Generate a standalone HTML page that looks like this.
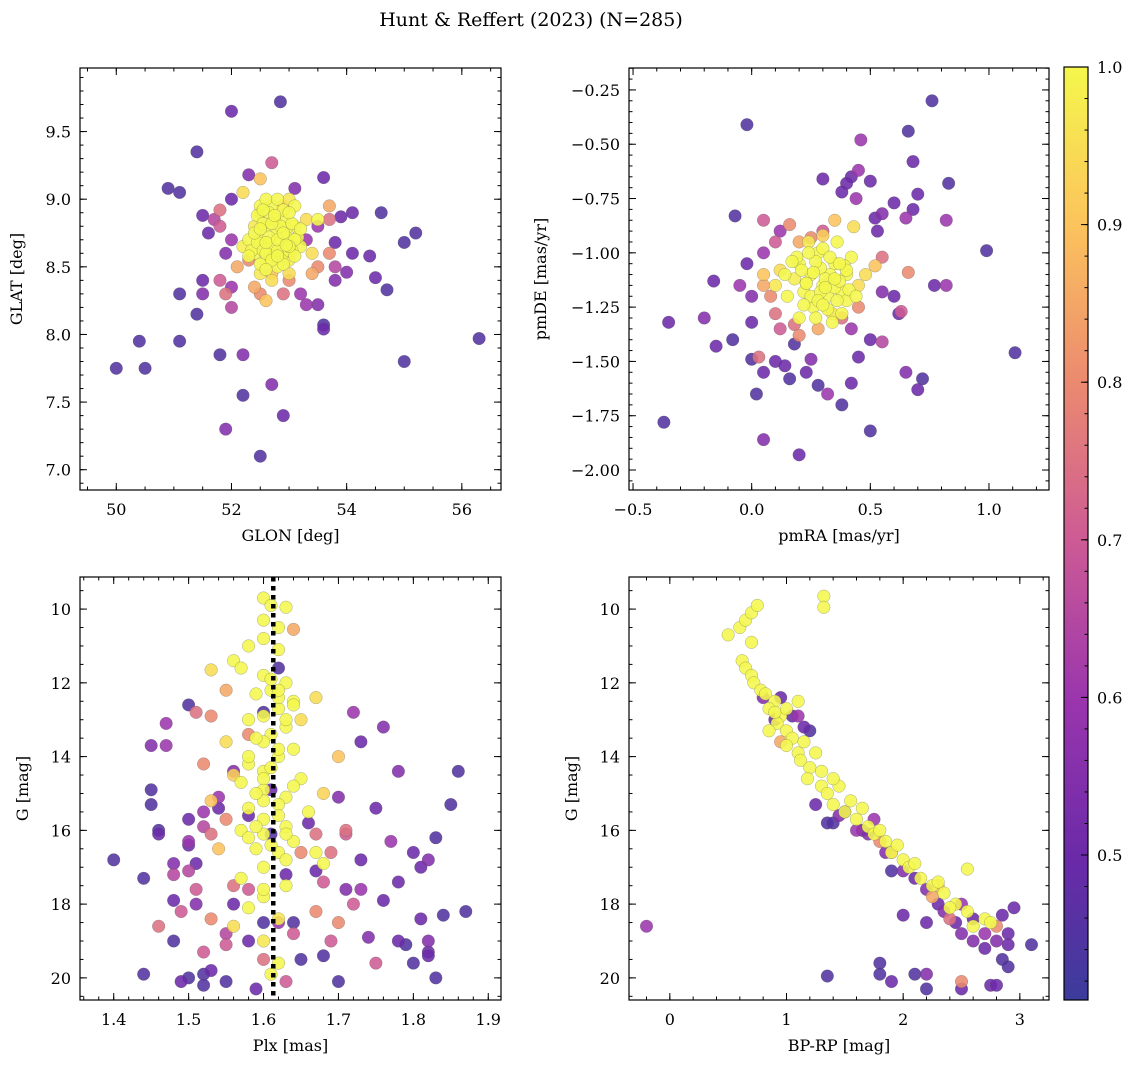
<!DOCTYPE html>
<html><head><meta charset="utf-8">
<style>
body{margin:0;background:#fff;}
svg{display:block;font-family:"DejaVu Serif","Liberation Serif",serif;}
</style></head>
<body>
<svg id="fig" width="1136" height="1067" viewBox="0 0 1136 1067" xmlns="http://www.w3.org/2000/svg">
<defs>
<linearGradient id="cbg" x1="0" y1="1" x2="0" y2="0">
<stop offset="0" stop-color="#3c3c9b"/><stop offset="0.15" stop-color="#6a2aa8"/><stop offset="0.32" stop-color="#9a35ae"/><stop offset="0.49" stop-color="#cc5a95"/><stop offset="0.66" stop-color="#eb8970"/><stop offset="0.83" stop-color="#fcc35c"/><stop offset="1" stop-color="#f4f74c"/>
</linearGradient>
</defs>
<text x="531" y="26" font-size="19" text-anchor="middle">Hunt &amp; Reffert (2023) (N=285)</text>
</svg>
<script>
// Panel 1: GLON vs GLAT
const p1x=[50.0,50.5,50.4,51.1,51.8,52.2,51.9,52.5,52.2,52.7,52.9,52.0,52.85,51.4,50.9,51.1,51.1,51.4,51.5,51.5,51.5,51.6,55.0,56.3,55.2,55.0,54.6,54.7,54.5,54.4,54.1,54.1,53.9,54.0,53.8,53.6,53.6,53.8,53.3,53.5,53.6,53.1,52.7,52.5,52.3,52.2,52.0,51.8,51.7,51.8,52.0,51.9,51.8,51.9,52.0,52.0,52.1,52.3,52.4,52.5,52.6,52.7,52.9,53.0,53.2,53.4,53.5,53.7,53.8,53.7,53.7,53.5,53.3,52.9,52.5,52.4,52.5,52.6,52.7,52.8,52.9,53.0,53.1,52.6,52.8,53.0,52.5,52.7,52.9,53.1,53.2,52.3,52.4,52.6,52.8,53.0,52.7,53.3,52.2,53.4,52.5,52.9,53.0,53.5,52.35,
52.45,52.55,52.65,52.75,52.85,52.95,53.05,53.15,52.45,52.55,52.65,52.75,52.85,52.95,53.05,52.5,52.6,52.7,52.8,52.9,53.0,53.1,52.4,52.6,52.8,53.0,53.2,52.3,52.5,52.7,52.9,53.1,52.6,52.8,53.0,52.55,52.75,52.95];
const p1y=[7.75,7.75,7.95,7.95,7.85,7.85,7.3,7.1,7.55,7.63,7.4,9.65,9.72,9.35,9.08,9.05,8.3,8.15,8.4,8.3,8.88,8.75,7.8,7.97,8.75,8.68,8.9,8.33,8.42,8.58,8.6,8.9,8.87,8.46,8.68,8.04,8.07,8.4,8.22,8.22,9.16,9.08,9.27,9.15,9.18,9.05,9.0,8.92,8.85,8.8,8.7,8.6,8.4,8.3,8.2,8.35,8.5,8.55,8.35,8.3,8.25,8.45,8.3,8.4,8.3,8.45,8.5,8.6,8.5,8.85,8.95,8.8,8.7,8.95,8.9,8.6,8.7,8.8,8.65,8.75,8.6,8.7,8.8,8.55,8.5,8.55,8.95,8.95,8.85,8.95,8.65,8.7,8.8,9.0,9.0,8.45,8.4,8.85,8.65,8.6,8.45,8.92,9.0,8.85,8.62,
8.68,8.62,8.72,8.58,8.68,8.78,8.62,8.72,8.88,8.82,8.9,8.85,8.8,8.72,8.82,8.52,8.6,8.55,8.62,8.52,8.62,8.58,8.75,8.68,8.7,8.9,8.78,8.58,8.78,8.82,8.75,8.7,8.48,8.58,8.65,8.92,8.88,8.66];
const p1p=[.45,.45,.45,.45,.45,.55,.55,.45,.45,.55,.5,.5,.45,.45,.45,.45,.45,.45,.5,.55,.5,.5,.45,.45,.45,.45,.45,.45,.5,.5,.5,.5,.5,.55,.5,.5,.45,.55,.6,.55,.5,.55,.7,.9,.55,.95,.5,.75,.65,.7,.6,.55,.7,.75,.65,.6,.85,.8,.85,.8,.9,.9,.75,.8,.6,.85,.8,.8,.65,.75,.85,.6,.6,.9,.95,1,1,1,1,1,1,1,1,1,1,.98,1,1,1,1,1,1,.97,1,1,.95,.95,.95,.98,.95,.97,1,.97,1,1,
1,1,1,1,1,1,1,1,1,1,1,1,1,1,1,1,1,1,1,1,1,1,1,1,1,1,1,1,1,1,1,1,1,1,1,1,1,1];
// Panel 2: pmRA vs pmDE
const p2x=[-0.37,-0.35,-0.15,-0.08,-0.2,-0.16,-0.07,-0.02,0.0,0.0,0.02,0.05,0.03,0.05,0.1,0.14,0.18,0.16,0.2,0.23,0.25,0.28,0.32,0.38,0.42,0.45,0.5,0.5,0.55,0.65,0.72,0.7,-0.02,0.3,0.42,0.45,0.46,0.4,0.38,0.44,0.5,0.52,0.55,0.53,0.6,0.65,0.66,0.68,0.7,0.68,0.76,0.83,0.82,0.99,1.11,0.77,0.82,0.66,0.6,0.62,0.63,0.55,0.55,0.52,0.05,0.1,0.12,0.16,0.2,0.25,0.3,0.35,0.05,0.08,0.1,0.12,0.18,0.2,0.28,0.38,0.42,0.45,0.0,-0.05,0.05,0.2,0.25,0.3,0.35,0.4,0.28,0.32,0.22,0.38,0.18,0.42,0.26,0.34,0.15,0.45,0.3,0.24,0.36,0.4,0.12,0.27,0.1,0.48,0.33,0.29,0.05,0.43,0.3,
0.21,0.23,0.27,0.31,0.35,0.39,0.19,0.25,0.29,0.33,0.37,0.41,0.22,0.28,0.32,0.36,0.17,0.24,0.3,0.34,0.38,0.44,0.2,0.26,0.31,0.35,0.14,0.4,0.23,0.37];
const p2y=[-1.78,-1.32,-1.43,-1.4,-1.3,-1.13,-0.83,-1.05,-1.32,-1.49,-1.65,-1.86,-1.48,-1.55,-1.5,-1.52,-1.42,-1.58,-1.93,-1.55,-1.49,-1.61,-1.65,-1.7,-1.6,-1.48,-1.82,-1.4,-1.41,-1.55,-1.58,-1.63,-0.41,-0.66,-0.65,-0.62,-0.48,-0.68,-0.72,-0.75,-0.67,-0.84,-0.82,-0.9,-0.77,-0.84,-0.44,-0.58,-0.73,-0.8,-0.3,-0.68,-0.85,-0.99,-1.46,-1.15,-1.15,-1.09,-1.2,-1.28,-1.27,-1.18,-1.02,-1.06,-0.85,-0.95,-0.9,-0.87,-0.95,-0.93,-0.9,-0.85,-1.15,-1.2,-1.28,-1.35,-1.33,-1.38,-1.35,-1.3,-1.35,-1.25,-1.2,-1.15,-1.0,-1.05,-1.1,-1.15,-1.05,-1.1,-1.0,-1.2,-1.18,-1.18,-1.12,-1.02,-1.25,-1.28,-1.2,-1.15,-0.98,-0.95,-0.95,-1.22,-1.08,-1.3,-1.15,-1.1,-1.1,-1.07,-1.1,-0.88,-0.92,
-1.08,-1.14,-1.04,-1.12,-1.16,-1.06,-1.02,-1.2,-1.18,-1.02,-1.13,-1.17,-1.24,-1.22,-1.26,-1.22,-1.04,-1.0,-1.24,-1.32,-1.28,-1.2,-1.3,-1.09,-1.16,-1.12,-1.1,-1.08,-1.14,-1.05];
const p2p=[.45,.5,.5,.45,.55,.5,.45,.5,.5,.45,.45,.55,.75,.5,.5,.5,.45,.45,.5,.5,.55,.45,.6,.45,.5,.5,.45,.5,.65,.55,.45,.5,.45,.5,.5,.6,.6,.5,.5,.6,.5,.5,.55,.5,.5,.6,.45,.5,.5,.5,.45,.45,.6,.45,.45,.5,.6,.8,.5,.5,.7,.55,.75,.9,.7,.7,.6,.8,.85,.8,.7,.9,.85,.8,.75,.7,.75,.8,.85,.75,.6,.8,.55,.6,.6,1,1,1,1,1,1,1,1,1,.98,1,1,.97,1,.95,1,.97,1,1,.95,1,.97,.95,1,1,.9,.95,.92,
1,1,1,1,1,1,1,1,1,1,1,1,1,1,1,1,1,1,1,1,1,1,1,1,1,1,1,1,1,1];
// Panel 3: Plx vs G
const p3x=[1.6,1.61,1.63,1.6,1.62,1.6,1.58,1.62,1.56,1.57,1.53,1.6,1.63,1.61,1.59,1.64,1.62,1.6,1.58,1.63,1.61,1.6,1.64,1.62,1.58,1.6,1.65,1.57,1.6,1.63,1.62,1.58,1.66,1.6,1.63,1.57,1.6,1.64,1.59,1.62,1.67,1.68,1.6,1.57,1.63,1.6,1.58,1.62,1.56,1.6,1.62,1.61,1.55,1.56,1.65,1.67,1.7,1.68,1.53,1.54,
1.62,1.63,1.59,1.61,1.64,1.6,1.62,1.59,1.63,1.61,1.58,1.62,1.6,1.64,1.61,1.59,1.63,1.6,1.62,1.58,
1.64,1.53,1.51,1.55,1.52,1.53,1.55,1.56,1.58,1.65,1.67,1.69,1.71,1.68,1.72,1.67,1.7,1.64,1.6,1.63,1.55,1.52,1.51,1.5,1.48,1.49,1.46,1.53,1.55,1.58,1.52,1.5,1.71,1.69,1.75,1.62,1.73,
1.4,1.44,1.44,1.45,1.45,1.46,1.46,1.45,1.47,1.48,1.48,1.48,1.49,1.47,1.5,1.5,1.5,1.51,1.51,1.52,1.52,1.53,1.5,1.54,1.56,1.52,1.55,1.56,1.58,1.59,1.61,1.62,1.63,1.64,1.65,1.66,1.67,1.68,1.7,1.72,1.73,1.75,1.76,1.78,1.78,1.79,1.8,1.81,1.81,1.8,1.82,1.82,1.82,1.83,1.84,1.83,1.85,1.86,1.87,1.82,1.7,1.73,1.77,1.71,1.74,1.76,1.78,1.6,1.61,1.6,1.58,1.54];
const p3y=[9.7,9.9,9.95,10.3,10.5,10.8,11.0,11.1,11.4,11.6,11.65,11.8,12.0,12.2,12.3,12.5,12.7,12.9,13.0,13.2,13.4,13.6,13.8,14.0,14.2,14.4,14.6,14.7,14.9,15.1,15.3,15.4,15.5,15.7,15.9,16.0,16.1,16.3,16.5,16.6,16.6,16.9,17.0,17.3,17.5,17.8,18.1,18.4,18.6,19.0,19.6,19.9,13.6,14.5,13.0,12.4,14.0,15.0,15.2,16.5,
12.4,13.0,13.5,14.3,14.8,15.2,15.6,15.9,16.1,16.4,16.2,13.8,14.6,12.6,11.9,15.0,16.8,17.6,12.2,14.0,
10.55,12.9,12.8,12.2,14.2,16.1,15.7,17.5,17.6,16.6,16.1,16.6,16.0,17.4,18.0,18.2,18.5,18.8,19.5,20.1,19.1,19.3,17.6,17.1,17.2,18.2,18.6,18.4,18.8,13.4,15.9,16.3,16.1,19.0,19.6,18.5,17.6,
16.8,17.3,19.9,15.3,14.9,16.0,16.1,13.7,13.7,17.9,19.0,16.9,20.1,13.1,16.4,15.7,12.6,16.9,18.0,19.9,20.2,19.8,20.0,15.4,14.4,15.5,20.1,18.0,19.0,20.3,16.1,11.6,17.2,18.5,19.5,15.8,17.1,19.4,20.1,12.8,13.6,15.4,13.2,14.4,17.4,19.1,19.6,18.4,17.0,16.6,16.8,19.0,19.3,16.2,18.3,20.0,15.3,14.4,18.2,19.4,15.1,16.8,16.3,17.6,18.9,17.9,19.0,18.5,14.9,12.8,15.6,15.1];
const p3p=[1,1,1,1,1,1,1,1,1,1,.95,1,1,1,1,1,1,1,1,1,1,1,1,1,1,1,1,1,1,1,1,1,1,1,1,1,1,1,1,1,1,1,1,1,1,1,1,.97,.95,.97,1,1,.95,.92,.95,.95,.9,.93,.9,.9,
1,1,1,1,1,1,1,1,1,1,1,1,1,1,1,1,1,1,1,1,
.85,.8,.75,.85,.8,.75,.8,.75,.7,.8,.75,.75,.75,.7,.7,.8,.8,.7,.75,.7,.7,.7,.7,.65,.65,.7,.75,.8,.65,.8,.65,.6,.7,.7,.7,.6,.6,
.45,.45,.45,.45,.45,.45,.5,.55,.6,.5,.45,.55,.5,.6,.5,.5,.45,.5,.55,.45,.45,.5,.45,.5,.55,.6,.45,.5,.5,.5,.45,.45,.5,.45,.45,.5,.5,.45,.45,.6,.5,.5,.55,.55,.5,.45,.45,.5,.5,.5,.55,.55,.5,.45,.45,.45,.45,.45,.45,.5,.55,.5,.6,.55,.55,.5,.5,.45,.5,.45,.5,.6];
// Panel 4: BP-RP vs G
const p4x=[0.5,0.6,0.65,0.7,0.75,0.7,0.62,0.65,0.7,0.72,0.78,0.82,0.9,0.85,0.95,0.92,1.0,1.05,1.0,1.1,1.12,1.2,1.18,1.3,1.35,1.4,1.5,1.6,1.7,1.75,1.85,1.9,2.0,2.05,2.15,2.25,2.35,2.45,2.55,2.7,2.75,2.55,1.32,1.32,1.1,1.25,1.45,1.55,1.65,0.9,1.0,1.15,1.3,1.4,1.8,1.95,2.1,2.3,2.4,2.6,0.85,
0.95,1.8,2.25,2.3,2.5,2.8,2.4,1.9,
-0.2,1.35,1.65,1.75,1.4,1.5,1.85,2.0,2.1,2.2,2.3,2.45,2.5,2.6,2.7,2.8,2.9,2.95,2.9,3.1,2.85,2.9,2.75,2.8,2.5,2.2,2.1,2.2,1.8,1.8,1.9,2.0,2.2,1.9,0.95,1.05,0.8,1.15,1.2,1.1,1.35,1.45,1.6,1.7,2.6,2.7,2.85,2.35,2.5,1.25,0.9];
const p4y=[10.7,10.5,10.3,10.1,9.9,10.9,11.4,11.6,11.8,12.0,12.2,12.3,12.5,12.7,12.9,13.1,13.3,13.5,13.7,13.9,14.1,14.3,14.6,14.8,15.0,15.3,15.5,15.7,15.9,16.1,16.3,16.6,16.8,17.0,17.3,17.5,17.7,18.0,18.2,18.4,18.5,17.05,9.65,9.95,12.5,13.9,14.8,15.2,15.4,12.8,12.7,13.6,14.4,14.6,16.0,16.4,16.9,17.4,18.1,18.6,13.3,
13.6,16.3,17.8,17.5,20.1,18.6,18.4,16.6,
18.6,19.95,16.0,15.7,15.8,15.5,16.6,17.1,17.3,17.6,18.0,18.5,18.8,19.0,19.2,19.0,18.8,18.1,19.1,19.1,19.5,19.7,20.2,20.2,20.3,20.3,19.9,19.9,19.6,19.9,20.1,18.3,18.5,17.1,12.4,12.9,12.4,13.2,13.3,12.9,15.8,15.6,16.0,16.1,18.4,18.8,18.3,18.2,18.0,15.3,13.0];
const p4p=[1,1,1,1,1,1,1,1,1,1,1,1,1,1,1,1,1,1,1,1,1,1,1,1,1,1,1,1,1,1,1,1,1,1,1,1,1,1,1,1,1,1,1,1,1,1,1,1,1,1,1,1,1,1,1,1,1,1,1,1,1,
.85,.8,.85,.9,.8,.8,.75,.75,
.6,.45,.5,.6,.45,.5,.55,.55,.5,.55,.5,.5,.55,.55,.5,.55,.5,.5,.5,.45,.45,.45,.5,.5,.5,.45,.45,.55,.45,.45,.5,.5,.5,.45,.5,.5,.55,.5,.45,.6,.45,.55,.6,.55,.5,.6,.5,.55,.6,.5,.5];
// Colorbar ticks
const cbTicks=[0.5,0.6,0.7,0.8,0.9,1.0];

const NS="http://www.w3.org/2000/svg";
const svg=document.getElementById('fig');
function mk(tag,attrs,parent){const e=document.createElementNS(NS,tag);for(const k in attrs)e.setAttribute(k,attrs[k]);(parent||svg).appendChild(e);return e;}
const VMIN=0.408,VMAX=1.0;
const stops=[[0,[60,60,155]],[0.15,[106,42,168]],[0.32,[154,53,174]],[0.49,[204,90,149]],[0.66,[235,137,112]],[0.83,[252,195,92]],[1,[244,247,76]]];
function cmap(v){let t=(v-VMIN)/(VMAX-VMIN);t=Math.max(0,Math.min(1,t));for(let i=1;i<stops.length;i++){if(t<=stops[i][0]){const a=stops[i-1],b=stops[i];const f=(t-a[0])/(b[0]-a[0]);const c=a[1].map((x,j)=>Math.round(x+(b[1][j]-x)*f));return `rgb(${c[0]},${c[1]},${c[2]})`;}}return 'rgb(244,247,76)';}
function fmt(v,d){return (v<0?'\u2212':'')+Math.abs(v).toFixed(d);}

function panel(o){
  const g=mk('g',{});
  
  
  const sx=v=>o.L+(v-o.x0)/(o.x1-o.x0)*(o.R-o.L);
  const sy=v=>o.B-(v-o.y0)/(o.y1-o.y0)*(o.B-o.T);
  const idx=o.xs.map((_,i)=>i).sort((a,b)=>o.ps[a]-o.ps[b]);
  const pg=mk('g',{},g);
  for(const i of idx){
    const c=mk('circle',{cx:sx(o.xs[i]),cy:sy(o.ys[i]),r:6.3,fill:cmap(o.ps[i]),'fill-opacity':0.88,stroke:'#555','stroke-width':0.4,'stroke-opacity':0.6},pg);
    
    
  }
  if(o.vline!==undefined){
    const l=mk('line',{x1:sx(o.vline),x2:sx(o.vline),y1:o.T,y2:o.B,stroke:'#000','stroke-width':4.5,'stroke-dasharray':'4.5,4.5'},g);
    
    
  }
  const tk=mk('g',{stroke:'#000','stroke-width':1},g);
  function ticks(a0,a1,step,len,axis){
    const s=Math.ceil(a0/step-1e-6);
    for(let k=s;k*step<=a1+1e-9;k++){const v=k*step;
      if(axis==='x'){const x=sx(v);mk('line',{x1:x,x2:x,y1:o.B,y2:o.B-len},tk);mk('line',{x1:x,x2:x,y1:o.T,y2:o.T+len},tk);}
      else{const y=sy(v);mk('line',{x1:o.L,x2:o.L+len,y1:y,y2:y},tk);mk('line',{x1:o.R,x2:o.R-len,y1:y,y2:y},tk);}
    }
  }
  ticks(Math.min(o.x0,o.x1),Math.max(o.x0,o.x1),o.xmin,3.5,'x');
  ticks(Math.min(o.x0,o.x1),Math.max(o.x0,o.x1),o.xmaj,7,'x');
  ticks(Math.min(o.y0,o.y1),Math.max(o.y0,o.y1),o.ymin,3.5,'y');
  ticks(Math.min(o.y0,o.y1),Math.max(o.y0,o.y1),o.ymaj,7,'y');
  for(const v of o.xt){const t=mk('text',{x:sx(v),y:o.B+25,'font-size':16,'text-anchor':'middle'},g);t.textContent=fmt(v,o.xd);}
  for(const v of o.yt){const t=mk('text',{x:o.L-9,y:sy(v)+6,'font-size':16,'text-anchor':'end'},g);t.textContent=fmt(v,o.yd);}
  mk('rect',{x:o.L,y:o.T,width:o.R-o.L,height:o.B-o.T,fill:'none',stroke:'#000','stroke-width':1.2},g);
  const xl=mk('text',{x:(o.L+o.R)/2,y:o.B+51,'font-size':16,'text-anchor':'middle'},g);xl.textContent=o.xlab;
  
  const cy=(o.T+o.B)/2, cx=o.ylx;
  const yl=mk('text',{x:cx,y:cy,'font-size':16,'text-anchor':'middle',transform:`rotate(-90 ${cx} ${cy})`},g);yl.textContent=o.ylab;
  
}
panel({name:'glon-glat-panel',L:80,R:501,T:68,B:490,x0:49.37,x1:56.68,y0:6.85,y1:9.97,xs:p1x,ys:p1y,ps:p1p,xmaj:2,xmin:0.5,ymaj:0.5,ymin:0.1,xt:[50,52,54,56],xd:0,yt:[7.0,7.5,8.0,8.5,9.0,9.5],yd:1,xlab:'GLON [deg]',ylab:'GLAT [deg]',ylx:22});
panel({name:'proper-motion-panel',L:629,R:1049,T:68,B:490,x0:-0.517,x1:1.253,y0:-2.092,y1:-0.149,xs:p2x,ys:p2y,ps:p2p,xmaj:0.5,xmin:0.1,ymaj:0.25,ymin:0.05,xt:[-0.5,0,0.5,1.0],xd:1,yt:[-2.0,-1.75,-1.5,-1.25,-1.0,-0.75,-0.5,-0.25],yd:2,xlab:'pmRA [mas/yr]',ylab:'pmDE [mas/yr]',ylx:546});
panel({name:'parallax-magnitude-panel',L:80,R:501,T:577,B:1000,x0:1.355,x1:1.917,y0:20.6,y1:9.13,xs:p3x,ys:p3y,ps:p3p,xmaj:0.1,xmin:0.02,ymaj:2,ymin:0.5,xt:[1.4,1.5,1.6,1.7,1.8,1.9],xd:1,yt:[10,12,14,16,18,20],yd:0,xlab:'Plx [mas]',ylab:'G [mag]',ylx:28,vline:1.613});
panel({name:'color-magnitude-panel',L:629,R:1049,T:577,B:1000,x0:-0.35,x1:3.25,y0:20.6,y1:9.13,xs:p4x,ys:p4y,ps:p4p,xmaj:1,xmin:0.2,ymaj:2,ymin:0.5,xt:[0,1,2,3],xd:0,yt:[10,12,14,16,18,20],yd:0,xlab:'BP-RP [mag]',ylab:'G [mag]',ylx:577});

const cb=mk('g',{});


const CT=67,CB=1000,CL=1064,CR=1088;
mk('rect',{x:CL,y:CT,width:CR-CL,height:CB-CT,fill:'url(#cbg)',stroke:'#000','stroke-width':1.2},cb);
const cy=v=>CB-(v-VMIN)/(VMAX-VMIN)*(CB-CT);
for(let k=21;k<=50;k++){const v=k*0.02;if(v<VMIN)continue;mk('line',{x1:CR,x2:CR-3.5,y1:cy(v),y2:cy(v),stroke:'#000'},cb);}
for(const v of cbTicks){mk('line',{x1:CR,x2:CR-7,y1:cy(v),y2:cy(v),stroke:'#000'},cb);
 const t=mk('text',{x:CR+9,y:cy(v)+6,'font-size':16},cb);t.textContent=v.toFixed(1);
 }
</script>
</body></html>
